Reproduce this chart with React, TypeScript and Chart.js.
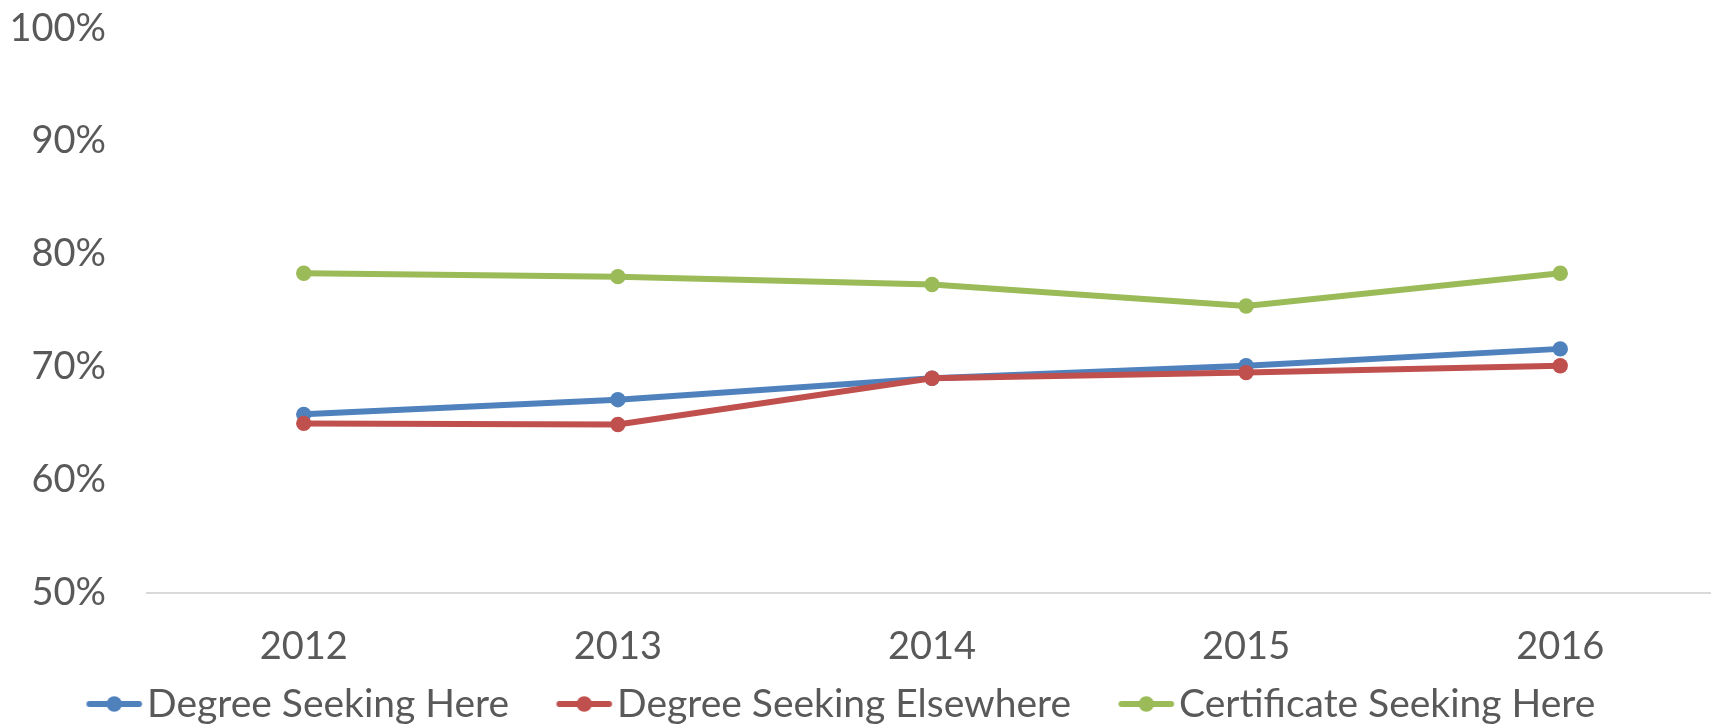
import React, { useEffect, useRef } from "react";
import { Chart, registerables } from "chart.js";

Chart.register(...registerables);

// ---- data ----
const years = ["2012", "2013", "2014", "2015", "2016"];
const degreeSeekingHere = [65.8, 67.1, 69.0, 70.1, 71.6];
const degreeSeekingElsewhere = [65.0, 64.9, 69.0, 69.5, 70.1];
const certificateSeekingHere = [78.3, 78.0, 77.3, 75.4, 78.3];
const seriesNames = ["Degree Seeking Here", "Degree Seeking Elsewhere", "Certificate Seeking Here"];
const seriesColors = ["#4F81BD", "#C0504D", "#9BBB59"];
const yTickValues = [50, 60, 70, 80, 90, 100];

// ---- layout / style ----
const CANVAS_W = 1725;
const CANVAS_H = 725;
const VIEW_W = 1711;
const FONT = "Lato";
const FS_TICK = 38;
const FS_LEG = 39;
const TEXT = "#595959";
const PLOT_TOP = 28.3;
const PLOT_BOTTOM = 590.7;
const PLOT_LEFT = 146.7;
const Y_LABEL_RIGHT = 106;
const X_LABEL_CY = 645;
const LEG_CY = 704;
const LEG_PAD = 2;
const MARK_LEN = 55.6;
const MARK_TEXT_GAP = 5;
const ITEM_GAP = 47.4;
const MARK_R = 7.7;
const LINE_W = 6;
const LEG_LINE_W = 6;
const LEG_START = 91.7;
const LEG_END = 1590;

const LEG_H = 2 * LEG_PAD + FS_LEG + 10;
const MARK_OFF = ITEM_GAP - LEG_PAD;
const BOX_W = MARK_OFF + MARK_LEN + MARK_TEXT_GAP - FS_LEG / 2;

function makeMarker(color: string): HTMLCanvasElement {
  const half = Math.max(BOX_W / 2 - MARK_OFF, MARK_OFF + MARK_LEN - BOX_W / 2) + 3;
  const w = Math.ceil(2 * half);
  const h = Math.ceil(2 * MARK_R + 4);
  const c = document.createElement("canvas");
  c.width = w;
  c.height = h;
  const ctx = c.getContext("2d")!;
  const origin = BOX_W / 2 - w / 2;
  const x1 = MARK_OFF - origin;
  const x2 = MARK_OFF + MARK_LEN - origin;
  const cy = h / 2;
  ctx.strokeStyle = color;
  ctx.lineWidth = LEG_LINE_W;
  ctx.lineCap = "round";
  ctx.beginPath();
  ctx.moveTo(x1 + LEG_LINE_W / 2, cy);
  ctx.lineTo(x2 - LEG_LINE_W / 2, cy);
  ctx.stroke();
  ctx.fillStyle = color;
  ctx.beginPath();
  ctx.arc((x1 + x2) / 2, cy, MARK_R, 0, Math.PI * 2);
  ctx.fill();
  return c;
}

const legendShift = {
  id: "legendShift",
  afterLayout(chart: any) {
    const lg = chart.legend;
    if (!lg) return;
    const target = (LEG_START + LEG_END) / 2;
    const current = (lg.left + lg.right + MARK_OFF) / 2;
    const dx = target - current;
    lg.left += dx;
    lg.right += dx;
    const dy = LEG_CY - (lg.top + LEG_PAD + FS_LEG / 2);
    lg.top += dy;
    lg.bottom += dy;
  },
};

export default function App() {
  const ref = useRef<HTMLCanvasElement | null>(null);

  useEffect(() => {
    if (!ref.current) return;
    const markers = seriesColors.map(makeMarker);
    const values = [degreeSeekingHere, degreeSeekingElsewhere, certificateSeekingHere];
    const orders = [3, 2, 1];

    const chart = new Chart(ref.current, {
      type: "line",
      data: {
        labels: years,
        datasets: values.map((v, i) => ({
          label: seriesNames[i],
          data: v,
          borderColor: seriesColors[i],
          backgroundColor: seriesColors[i],
          pointBackgroundColor: seriesColors[i],
          pointBorderColor: seriesColors[i],
          pointBorderWidth: 0,
          pointRadius: MARK_R,
          pointHoverRadius: MARK_R,
          borderWidth: LINE_W,
          tension: 0,
          fill: false,
          order: orders[i],
        })),
      },
      options: {
        responsive: false,
        animation: false,
        events: [],
        layout: { padding: { top: PLOT_TOP, left: 0, right: 0, bottom: 0 } },
        font: { family: FONT },
        plugins: {
          tooltip: { enabled: false },
          legend: {
            display: true,
            position: "bottom",
            align: "center",
            labels: {
              usePointStyle: true,
              pointStyleWidth: BOX_W,
              padding: LEG_PAD,
              color: TEXT,
              font: { family: FONT, size: FS_LEG },
              generateLabels: (c: any) =>
                c.data.datasets.map((ds: any, i: number) => ({
                  text: ds.label,
                  fillStyle: seriesColors[i],
                  strokeStyle: seriesColors[i],
                  lineWidth: 0,
                  pointStyle: markers[i],
                  hidden: false,
                  datasetIndex: i,
                  fontColor: TEXT,
                })),
            },
          },
        },
        scales: {
          x: {
            type: "category",
            offset: true,
            grid: { display: false, drawTicks: false },
            border: { display: true, color: "#D9D9D9", width: 2 },
            ticks: {
              color: TEXT,
              font: { family: FONT, size: FS_TICK, lineHeight: 1.2 },
              padding: X_LABEL_CY - PLOT_BOTTOM - FS_TICK * 0.6,
              maxRotation: 0,
              autoSkip: false,
            },
            afterFit: (s: any) => {
              s.height = CANVAS_H - PLOT_BOTTOM - LEG_H;
              s.paddingLeft = 0;
              s.paddingRight = 0;
            },
          },
          y: {
            type: "linear",
            min: 50,
            max: 100,
            grid: { display: false, drawTicks: false },
            border: { display: false },
            ticks: {
              color: TEXT,
              font: { family: FONT, size: FS_TICK, lineHeight: 1.2 },
              padding: PLOT_LEFT - Y_LABEL_RIGHT,
              callback: (v: any) => `${v}%`,
            },
            afterBuildTicks: (s: any) => {
              s.ticks = yTickValues.map((v) => ({ value: v }));
            },
            afterFit: (s: any) => {
              s.width = PLOT_LEFT;
              s.paddingTop = 0;
              s.paddingBottom = 0;
            },
          },
        },
      },
      plugins: [legendShift],
    } as any);

    return () => chart.destroy();
  }, []);

  return (
    <div
      style={{
        position: "fixed",
        left: 0,
        top: 0,
        width: VIEW_W,
        height: CANVAS_H,
        overflow: "hidden",
        background: "#ffffff",
      }}
    >
      <canvas
        ref={ref}
        width={CANVAS_W}
        height={CANVAS_H}
        style={{ width: CANVAS_W, height: CANVAS_H, display: "block" }}
      />
    </div>
  );
}
